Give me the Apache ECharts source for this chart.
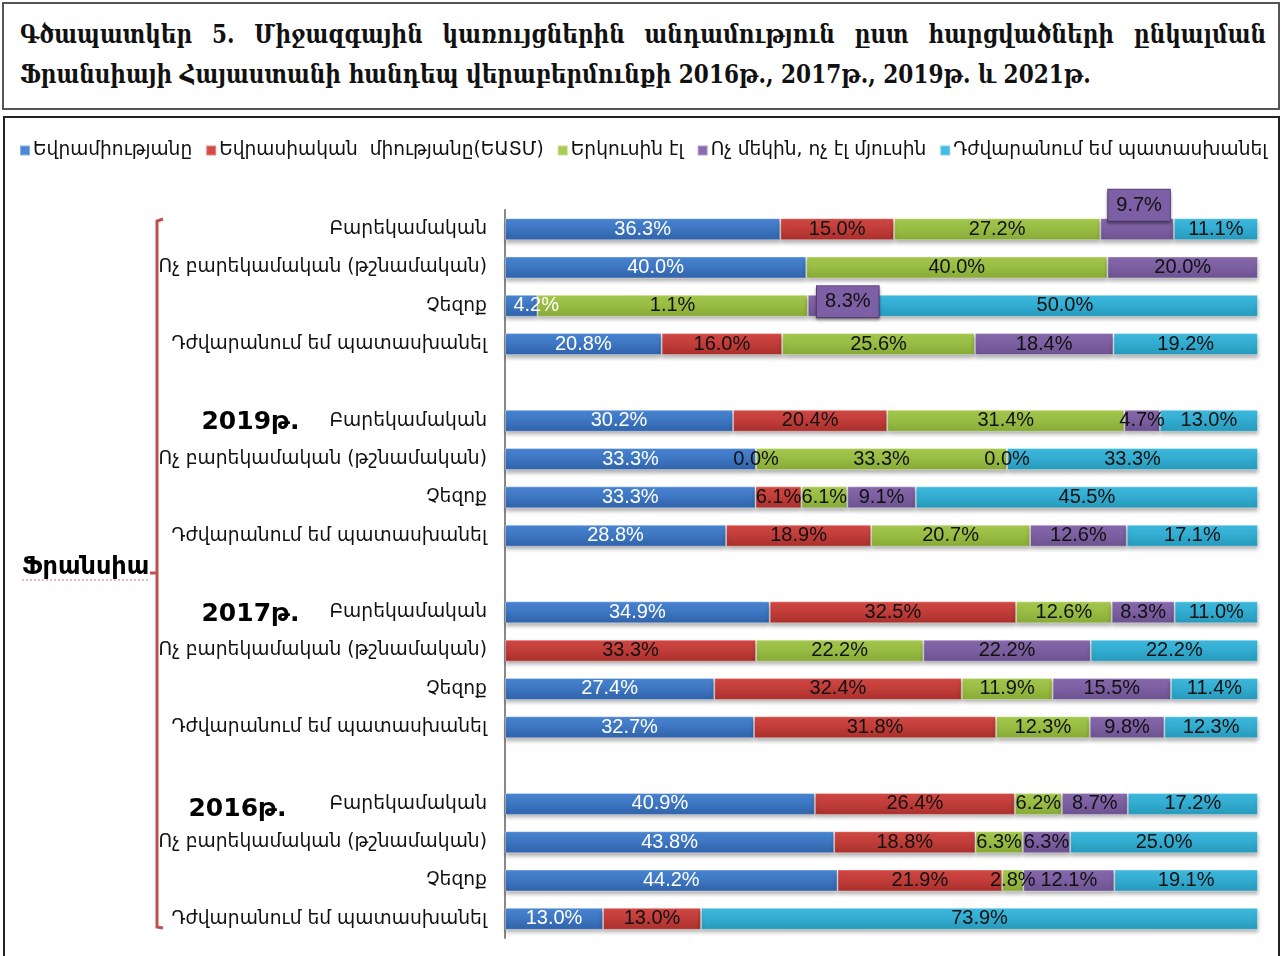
<!DOCTYPE html>
<html>
<head>
<meta charset="utf-8">
<script src="https://cdn.jsdelivr.net/npm/echarts@6/dist/echarts.min.js"></script>
<style>
  html, body { margin: 0; padding: 0; background: #fff; }
  body { width: 1281px; height: 956px; position: relative; overflow: hidden; }
  .title-box {
    position: absolute; left: 2px; top: 2px; width: 1274px; height: 104px;
    border: 2px solid #555; background: #fff; z-index: 2;
    font-family: 'DejaVu Serif Condensed', 'DejaVu Serif', serif;
    font-weight: bold; font-size: 24px; color: #111;
  }
  .title-box .l1 { position: absolute; left: 16px; right: 12px; top: 13px;
    text-align: justify; text-align-last: justify; white-space: nowrap;
    transform: scaleY(1.12); transform-origin: left top; }
  .title-box .l2 { position: absolute; left: 16px; top: 53px;
    transform: scaleY(1.12); transform-origin: left top; }
  .chart-box {
    position: absolute; left: 3px; top: 116px; width: 1273px; height: 860px;
    border: 2px solid #222; z-index: 1; pointer-events: none;
  }
  #chart { position: absolute; left: 0; top: 0; width: 1281px; height: 956px; }
</style>
</head>
<body>
<div class="title-box">
  <div class="l1">Գծապատկեր 5. Միջազգային կառույցներին անդամություն ըստ հարցվածների ընկալման</div>
  <div class="l2">Ֆրանսիայի Հայաստանի հանդեպ վերաբերմունքի 2016թ., 2017թ., 2019թ. և 2021թ.</div>
</div>
<div id="chart"></div>
<div class="chart-box"></div>
<script>
// ---- data (rows: 2021, 2019, 2017, 2016; 4 answers each) ----
const yearLabels = ['', '2019թ.', '2017թ.', '2016թ.'];
const answers = ['Բարեկամական', 'Ոչ բարեկամական (թշնամական)', 'Չեզոք', 'Դժվարանում եմ պատասխանել'];
const seriesNames = ['Եվրամիությանը', 'Եվրասիական  միությանը(ԵԱՏՄ)', 'Երկուսին էլ', 'Ոչ մեկին, ոչ էլ մյուսին', 'Դժվարանում եմ պատասխանել'];

const euValues      = [36.3, 40.0, 4.2, 20.8,  30.2, 33.3, 33.3, 28.8,  34.9, null, 27.4, 32.7,  40.9, 43.8, 44.2, 13.0];
const eaeuValues    = [15.0, null, null, 16.0,  20.4, 0.0, 6.1, 18.9,   32.5, 33.3, 32.4, 31.8,  26.4, 18.8, 21.9, 13.0];
const bothValues    = [27.2, 40.0, 35.0, 25.6,  31.4, 33.3, 6.1, 20.7,  12.6, 22.2, 11.9, 12.3,  6.2, 6.3, 2.8, null];
const neitherValues = [9.7, 20.0, 8.3, 18.4,    4.7, 0.0, 9.1, 12.6,    8.3, 22.2, 15.5, 9.8,    8.7, 6.3, 12.1, null];
const hardValues    = [11.1, null, 50.0, 19.2,  13.0, 33.3, 45.5, 17.1, 11.0, 22.2, 11.4, 12.3,  17.2, 25.0, 19.1, 73.9];

// label text printed in the source differs from the bar here
const labelOverrides = [{ series: 2, row: 2, text: '1.1%' }];

const allValues = [euValues, eaeuValues, bothValues, neitherValues, hardValues];

// colours (top / bottom of the gradient)
const colors = [
  ['#4b88d6', '#2f62aa'],
  ['#d64a46', '#a92f2b'],
  ['#a8cc50', '#87aa36'],
  ['#8a6bb0', '#6c5290'],
  ['#3fbde2', '#2599bb']
];

// categories with an empty slot between years
const categories = [];
const rowIndex = [];
yearLabels.forEach((y, g) => {
  if (g > 0) { categories.push(''); rowIndex.push(-1); }
  answers.forEach((a, i) => {
    let txt = '{cat|' + a + '}';
    if (i === 0 && y) txt = '{' + (g === 3 ? 'yrb' : 'yr') + '|' + y + '}' + txt;
    categories.push(txt);
    rowIndex.push(g * 4 + i);
  });
});

// Excel draws 100% stacked bars, so each row is scaled to 100
const rowSums = euValues.map((_, r) => allValues.reduce((s, arr) => s + (arr[r] || 0), 0));

const labelFont = "'Liberation Sans', Arial, sans-serif";

const series = seriesNames.map((name, s) => {
  const data = rowIndex.map(r => {
    if (r < 0 || allValues[s][r] === null) return null;
    const v = allValues[s][r];
    const ov = labelOverrides.find(o => o.series === s && o.row === r);
    const item = {
      value: v / rowSums[r] * 100,
      text: ov ? ov.text : v.toFixed(1) + '%'
    };
    // the two purple call-out boxes of the 2021 rows
    if (s === 3 && (r === 0 || r === 2)) {
      item.label = {
        backgroundColor: '#7d5fa5',
        borderColor: '#5f4785',
        borderWidth: 1,
        padding: [6, 8, 5, 8],
        shadowColor: 'rgba(0,0,0,0.35)',
        shadowBlur: 3,
        shadowOffsetY: 2,
        offset: r === 0 ? [2, -24] : [8, -4]
      };
    }
    // tiny first segment: label kept inside the plot
    if (s === 0 && r === 2) item.label = { offset: [15, 0] };
    return item;
  });
  return {
    name: name,
    type: 'bar',
    stack: 'all',
    barWidth: 22,
    data: data,
    itemStyle: {
      color: new echarts.graphic.LinearGradient(0, 0, 0, 1, [
        { offset: 0, color: colors[s][0] },
        { offset: 1, color: colors[s][1] }
      ]),
      borderColor: 'rgba(255,255,255,0.35)',
      borderWidth: 1,
      shadowColor: 'rgba(0,0,0,0.3)',
      shadowBlur: 4,
      shadowOffsetY: 3
    },
    label: {
      show: true,
      position: 'inside',
      formatter: p => p.data.text,
      color: s === 0 ? '#fff' : '#111',
      fontFamily: labelFont,
      fontSize: 20
    },
    emphasis: { disabled: true }
  };
});

const chart = echarts.init(document.getElementById('chart'));
chart.setOption({
  animation: false,
  legend: {
    left: 14,
    right: 0,
    top: 136,
    itemWidth: 10,
    itemHeight: 10,
    itemGap: 13,
    icon: 'rect',
    data: seriesNames.map((n, i) => ({ name: n, itemStyle: { color: colors[i][0] } })),
    textStyle: { fontFamily: 'DejaVu Sans', fontSize: 18.6, color: '#111', padding: [0, 0, 0, -2] }
  },
  grid: { left: 505, right: 23, top: 210, height: 728 },
  xAxis: {
    type: 'value', min: 0, max: 100, show: false
  },
  yAxis: {
    type: 'category',
    inverse: true,
    data: categories,
    axisLine: { show: true, lineStyle: { color: '#888', width: 2 } },
    axisTick: { show: false },
    axisLabel: {
      margin: 18,
      rich: {
        cat: { fontFamily: 'DejaVu Sans', fontSize: 18.7, color: '#111' },
        yr: { fontFamily: 'DejaVu Sans', fontWeight: 'bold', fontSize: 25, color: '#000', padding: [4, 30, 0, 0] },
        yrb: { fontFamily: 'DejaVu Sans', fontWeight: 'bold', fontSize: 25, color: '#000', padding: [12, 43, 0, 0] }
      }
    }
  },
  graphic: [
    {
      type: 'polyline',
      shape: { points: [[163, 219], [157, 221], [157, 927], [163, 928]] },
      style: { stroke: '#c0504d', lineWidth: 3, fill: null }
    },
    {
      type: 'line',
      shape: { x1: 150, y1: 573, x2: 157, y2: 573 },
      style: { stroke: '#c0504d', lineWidth: 3 }
    },
    {
      type: 'text',
      left: 22,
      top: 556,
      style: { text: 'Ֆրանսիա', font: "bold 24px 'DejaVu Sans'", fill: '#000' }
    },
    {
      type: 'line',
      shape: { x1: 22, y1: 580, x2: 148, y2: 580 },
      style: { stroke: '#e07070', lineWidth: 1, lineDash: [2, 2] }
    }
  ],
  series: series
});
</script>
</body>
</html>
